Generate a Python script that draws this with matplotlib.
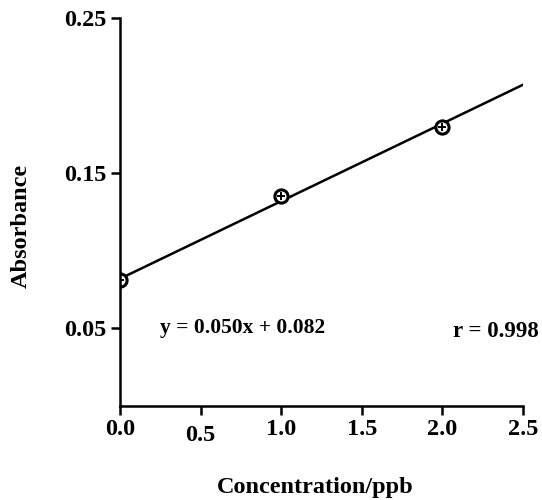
import matplotlib
matplotlib.use('Agg')
import matplotlib.pyplot as plt
import numpy as np

# calibration data
conc = [0.0, 1.0, 2.0]
absorb = [0.081, 0.135, 0.180]
slope = 0.050
intercept = 0.082
fit_x = [0.0, 2.5]
xticks = [0.0, 0.5, 1.0, 1.5, 2.0, 2.5]
yticks = [0.05, 0.15, 0.25]

plt.rcParams['font.family'] = 'Liberation Serif'
plt.rcParams['font.weight'] = 'bold'

fig = plt.figure(figsize=(5.42, 5.00), dpi=100)
ax = fig.add_axes([0.2214, 0.188, 0.7436, 0.776])

fy = [slope * x + intercept for x in fit_x]
ax.plot(fit_x, fy, color='black', lw=1.8, solid_capstyle='round')
ax.plot(conc, absorb, 'o', ms=9.5, mfc='white', mec='black', mew=2.2)
ax.plot(conc, absorb, '+', ms=6, color='black', mew=1.4)

ax.set_xlim(0, 2.5)
ax.set_ylim(0, 0.25)
ax.spines['top'].set_visible(False)
ax.spines['right'].set_visible(False)
ax.spines['left'].set_linewidth(1.8)
ax.spines['bottom'].set_linewidth(1.8)

ax.set_xticks(xticks)
ax.set_xticklabels(['%.1f' % t for t in xticks])
ax.set_yticks(yticks)
ax.set_yticklabels(['%.2f' % t for t in yticks])
ax.tick_params(axis='both', direction='out', length=6.5, width=1.8, labelsize=17.5)
ax.tick_params(axis='x', pad=3)
ax.tick_params(axis='y', pad=3)
# 0.5 label sits a little lower in the original
ax.get_xticklabels()[1].set_y(-0.015)

ax.set_xlabel('Concentration/ppb', fontsize=17.5, fontweight='bold', va='center')
ax.xaxis.set_label_coords(0.485, -0.209)
ax.set_ylabel('Absorbance', fontsize=17.5, fontweight='bold', va='center')
ax.yaxis.set_label_coords(-0.245, 0.464)

ax.text(0.25, 0.05, 'y = 0.050x + 0.082', fontsize=15.5, fontweight='bold',
        va='center', ha='left')
ax.text(2.065, 0.048, 'r = 0.998', fontsize=16.5, fontweight='bold',
        va='center', ha='left', clip_on=False)

fig.savefig('out.png', dpi=100)
